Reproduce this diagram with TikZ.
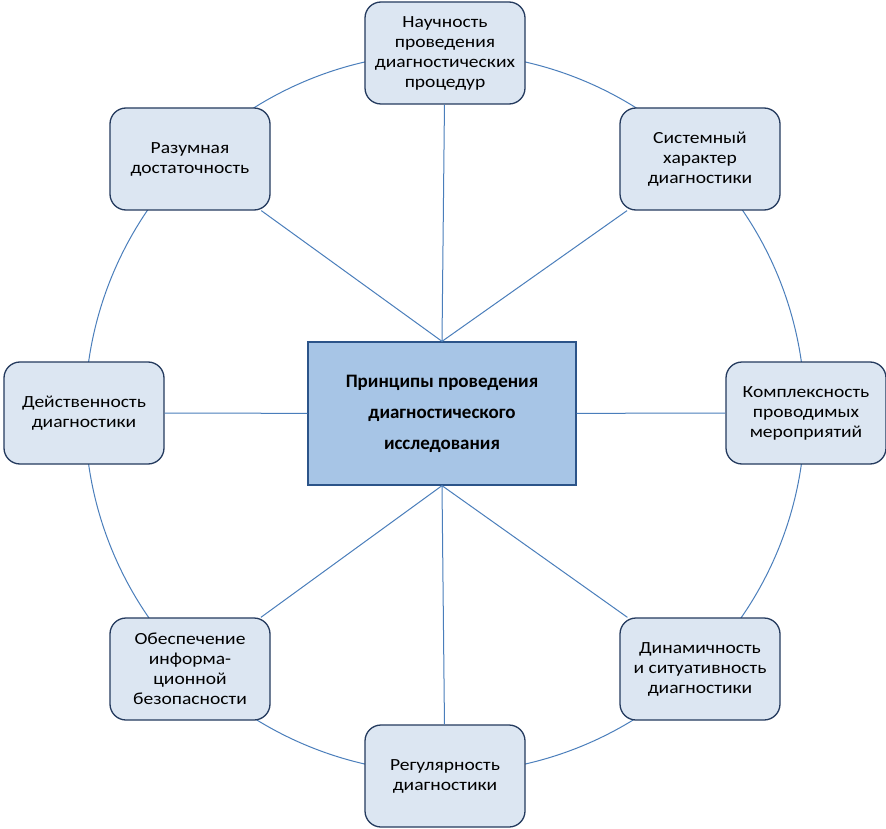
\documentclass[tikz,border=0pt]{standalone}
\usepackage{fontspec}
\setmainfont{Carlito}
\newfontfamily\widefont[FakeStretch=1.15]{Carlito}
\definecolor{boxfill}{HTML}{DCE6F2}
\definecolor{boxline}{HTML}{243A5E}
\definecolor{conn}{HTML}{4A7EBB}
\definecolor{cfill}{HTML}{A7C5E6}
\definecolor{cline}{HTML}{2C5489}
\begin{document}
\begin{tikzpicture}[x=1pt,y=-1pt,
  outer/.style={draw=boxline,line width=1.3pt,fill=boxfill,rounded corners=16pt,
    minimum width=160pt,minimum height=102pt,align=center,inner sep=2pt,
    font=\widefont\fontsize{17}{20}\selectfont},
  central/.style={draw=cline,line width=1.3pt,fill=cfill,minimum width=268pt,
    minimum height=143pt,align=center,font=\fontsize{19}{31}\selectfont\bfseries},
  link/.style={draw=conn,line width=1pt}]
\useasboundingbox (0,0) rectangle (886,829);
\fill[white] (0,0) rectangle (886,829);
\coordinate (c) at (445,413);
\draw[link] (c) circle[radius=360];
\node[central] (m) at (442,413.5) {Принципы проведения\\диагностического\\исследования};
\node[outer] (t) at (445,53) {Научность\\проведения\\диагностических\\процедур};
\node[outer] (tr) at (700,159) {Системный\\характер\\диагностики};
\node[outer] (r) at (806,413) {Комплексность\\проводимых\\мероприятий};
\node[outer] (br) at (700,669) {Динамичность\\и ситуативность\\диагностики};
\node[outer] (b) at (445,776) {Регулярность\\диагностики};
\node[outer] (bl) at (190,669) {Обеспечение\\информа-\\ционной\\безопасности};
\node[outer] (l) at (84,413) {Действенность\\диагностики};
\node[outer] (tl) at (190,159) {Разумная\\достаточность};
\draw[link] (t) -- (m.north);
\draw[link] (tr) -- (m.north);
\draw[link] (tl) -- (m.north);
\draw[link] (b) -- (m.south);
\draw[link] (br) -- (m.south);
\draw[link] (bl) -- (m.south);
\draw[link] (l) -- (m);
\draw[link] (r) -- (m);
\end{tikzpicture}
\end{document}
